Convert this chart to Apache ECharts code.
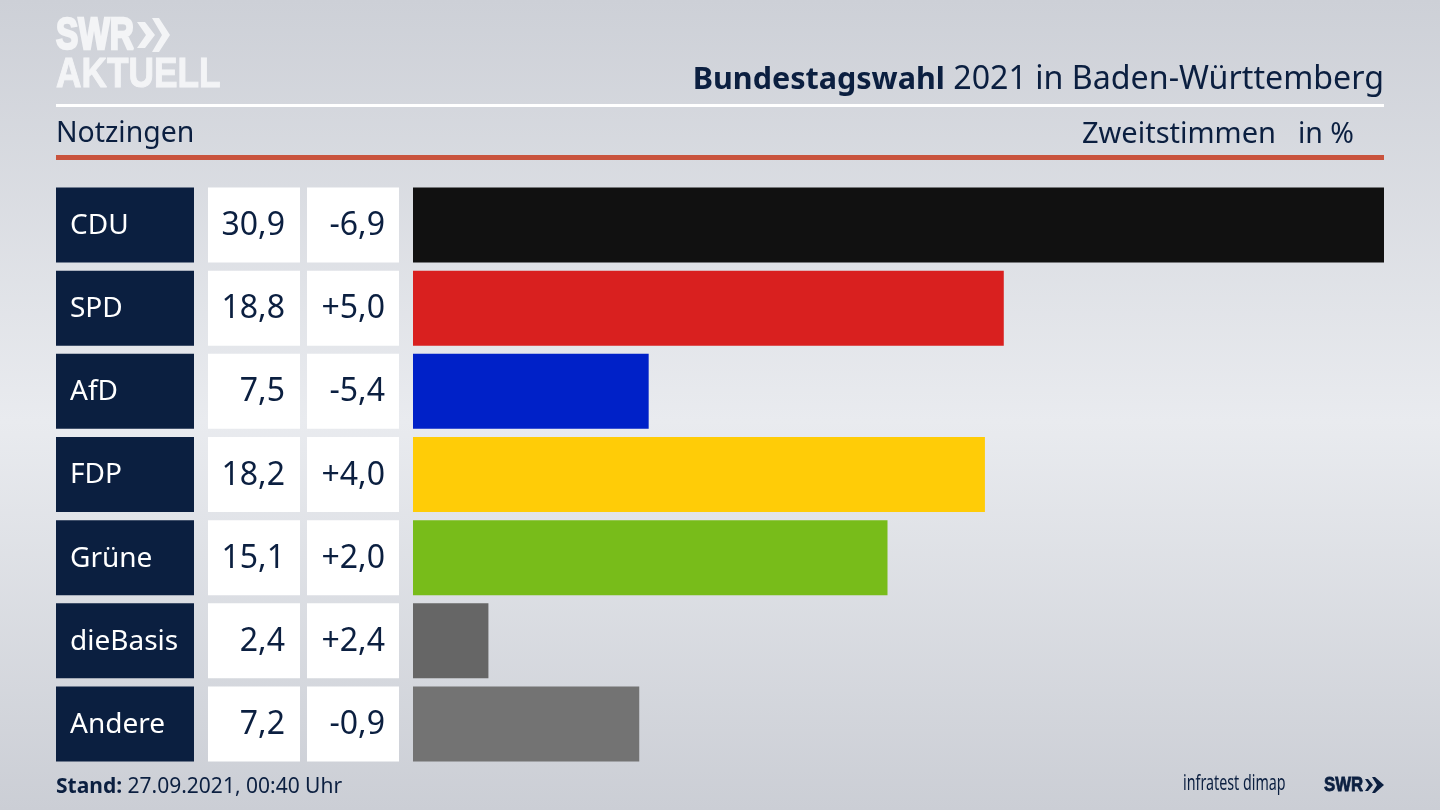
<!DOCTYPE html>
<html>
<head>
<meta charset="utf-8">
<title>Bundestagswahl 2021 in Baden-Württemberg</title>
<script src="https://cdn.jsdelivr.net/npm/echarts@6/dist/echarts.min.js"></script>
<style>
html, body { margin: 0; padding: 0; }
#main { width: 1440px; height: 810px; }
</style>
</head>
<body>
<div id="main"></div>
<script>
// data
var parties = ['CDU', 'SPD', 'AfD', 'FDP', 'Grüne', 'dieBasis', 'Andere'];
var shares = [30.9, 18.8, 7.5, 18.2, 15.1, 2.4, 7.2];
var changes = ['-6,9', '+5,0', '-5,4', '+4,0', '+2,0', '+2,4', '-0,9'];
var barColors = ['#111111', '#d9201f', '#0021c8', '#ffcc07', '#78bc1a', '#666666', '#737373'];

var navy = '#0b1f40';
var logoWhite = '#f3f4f6';
var font = '"Noto Sans", sans-serif';
var logoFont = '"Liberation Sans", sans-serif';
var chart = echarts.init(document.getElementById('main'));

// every column is its own grid, all use the same rows
var gridTop = 183.4, gridHeight = 582.2;
function makeGrid(left, width) {
    return { left: left, width: width, top: gridTop, height: gridHeight };
}
function makeX(idx, max) {
    return { gridIndex: idx, type: 'value', min: 0, max: max, show: false };
}
function makeY(idx) {
    return { gridIndex: idx, type: 'category', data: parties, inverse: true, show: false };
}
// box column: full width bar with the text on it
function boxSeries(idx, color, texts, pos, textColor, dist, size) {
    return {
        type: 'bar', xAxisIndex: idx, yAxisIndex: idx, barWidth: 75, silent: true,
        data: parties.map(function () { return 1; }),
        itemStyle: { color: color },
        label: {
            show: true, position: pos, distance: dist, color: textColor,
            fontFamily: font, fontSize: size, offset: [0, 1],
            formatter: function (p) { return texts[p.dataIndex]; }
        }
    };
}
function comma(v) { return v.toFixed(1).replace('.', ','); }

var option = {
    animation: false,
    backgroundColor: new echarts.graphic.LinearGradient(0, 0, 0, 1, [
        { offset: 0, color: '#cdd0d7' },
        { offset: 0.52, color: '#e9ebef' },
        { offset: 1, color: '#cbced5' }
    ]),
    grid: [makeGrid(413, 971), makeGrid(56, 138), makeGrid(208, 92), makeGrid(307, 92)],
    xAxis: [makeX(0, 30.9), makeX(1, 1), makeX(2, 1), makeX(3, 1)],
    yAxis: [makeY(0), makeY(1), makeY(2), makeY(3)],
    series: [
        {
            type: 'bar', xAxisIndex: 0, yAxisIndex: 0, barWidth: 75, silent: true,
            data: shares.map(function (v, i) {
                return { value: v, itemStyle: { color: barColors[i] } };
            })
        },
        boxSeries(1, navy, parties, 'insideLeft', '#ffffff', 14, 28),
        boxSeries(2, '#ffffff', shares.map(comma), 'insideRight', navy, 15, 32),
        boxSeries(3, '#ffffff', changes, 'insideRight', navy, 14, 32)
    ],
    graphic: [
        // logo
        {
            type: 'text', x: 56, y: 37, scaleX: 0.76,
            style: { text: 'SWR', fill: logoWhite, stroke: logoWhite, lineWidth: 2.5, verticalAlign: 'middle', font: 'bold 44px ' + logoFont }
        },
        { type: 'polygon', shape: { points: [[137, 22], [145, 22], [155, 35], [145, 48], [137, 48], [146, 35]] }, style: { fill: logoWhite } },
        { type: 'polygon', shape: { points: [[152, 18], [159, 18], [170, 35], [159, 52], [152, 52], [162, 35]] }, style: { fill: logoWhite } },
        {
            type: 'text', x: 56, y: 75, scaleX: 0.84,
            style: { text: 'AKTUELL', fill: logoWhite, stroke: logoWhite, lineWidth: 1, verticalAlign: 'middle', font: 'bold 42px ' + logoFont }
        },

        // header
        {
            type: 'text', right: 56, top: 64,
            style: {
                text: '{b|Bundestagswahl} 2021 in Baden-Württemberg',
                fill: navy, font: '32.2px ' + font,
                rich: { b: { fontWeight: 'bold', fontSize: 30.5, fontFamily: font, fill: navy } }
            }
        },
        { type: 'rect', shape: { x: 56, y: 104, width: 1328, height: 3 }, style: { fill: '#ffffff' } },
        { type: 'text', left: 56, top: 120, style: { text: 'Notzingen', fill: navy, font: '28.4px ' + font } },
        { type: 'text', right: 164, top: 120, style: { text: 'Zweitstimmen', fill: navy, font: '29px ' + font } },
        { type: 'text', right: 86, top: 120, style: { text: 'in %', fill: navy, font: '28.5px ' + font } },
        { type: 'rect', shape: { x: 56, y: 155, width: 1328, height: 5 }, style: { fill: '#c9533d' } },

        // footer
        {
            type: 'text', left: 56, top: 777,
            style: {
                text: '{b|Stand:} 27.09.2021, 00:40 Uhr',
                fill: navy, font: '21px ' + font,
                rich: { b: { fontWeight: 'bold', fontSize: 21, fontFamily: font, fill: navy } }
            }
        },
        {
            type: 'text', x: 1183, y: 784, scaleX: 0.68,
            style: { text: 'infratest dimap', fill: navy, verticalAlign: 'middle', font: '21px ' + font }
        },
        {
            type: 'text', x: 1324, y: 785, scaleX: 0.8,
            style: { text: 'SWR', fill: navy, stroke: navy, lineWidth: 0.8, verticalAlign: 'middle', font: 'bold 21px ' + logoFont }
        },
        { type: 'polygon', shape: { points: [[1365, 779], [1368, 779], [1373, 785], [1368, 791], [1365, 791], [1369, 785]] }, style: { fill: navy } },
        { type: 'polygon', shape: { points: [[1372, 777], [1375, 777], [1384, 785], [1375, 793], [1372, 793], [1377, 785]] }, style: { fill: navy } }
    ]
};

chart.setOption(option);
</script>
</body>
</html>
